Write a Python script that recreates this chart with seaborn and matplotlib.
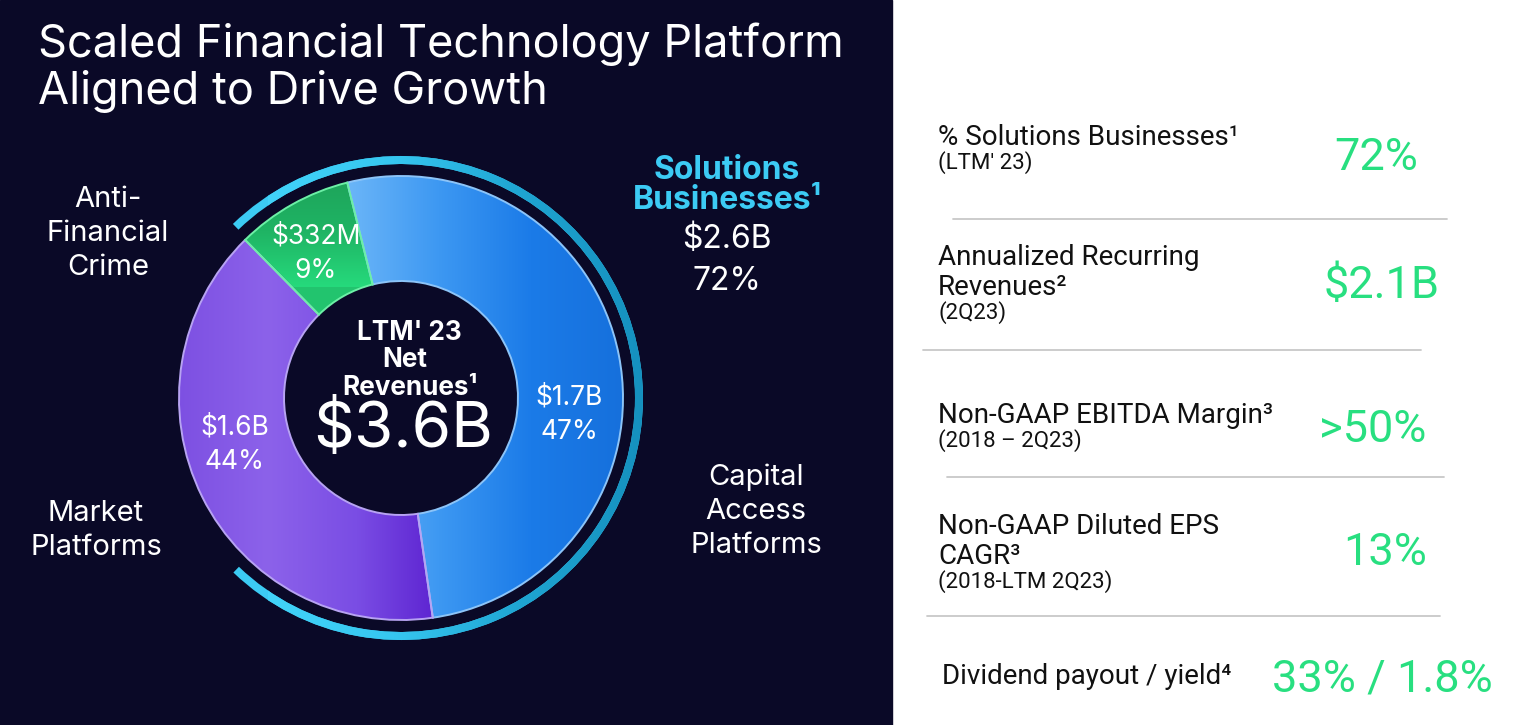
import numpy as np
import matplotlib
matplotlib.use("Agg")
import matplotlib.pyplot as plt
import seaborn as sns
from matplotlib.colors import LinearSegmentedColormap
from matplotlib.patches import Rectangle

# ---------------- data ----------------
segments = ["Capital Access Platforms", "Market Platforms", "Anti-Financial Crime"]
seg_revenue = ["$1.7B", "$1.6B", "$332M"]
seg_pct = ["47%", "44%", "9%"]
seg_drawn_share = [51.6, 39.9, 8.5]          # slice sizes as drawn in the reference
solutions_arc_share = [74.4, 25.6]           # outer "Solutions" arc as drawn
total_label = "$3.6B"
solutions_value = "$2.6B"
solutions_pct = "72%"

kpi_titles = [["% Solutions Businesses¹"],
              ["Annualized Recurring", "Revenues²"],
              ["Non-GAAP EBITDA Margin³"],
              ["Non-GAAP Diluted EPS", "CAGR³"],
              ["Dividend payout / yield⁴"]]
kpi_periods = ["(LTM' 23)", "(2Q23)", "(2018 – 2Q23)", "(2018-LTM 2Q23)", None]
kpi_values = ["72%", "$2.1B", ">50%", "13%", "33% / 1.8%"]

# ---------------- style ----------------
NAVY = "#0a0927"
CYAN = "#3ccbf4"
GREEN = "#28df80"
sns.set_theme(style="white")
plt.rcParams['font.family'] = ['Inter', 'DejaVu Sans']
LEFT_FONT = ['Inter', 'DejaVu Sans']
RIGHT_FONT = ['Roboto', 'DejaVu Sans']

W, H = 1514, 725
fig = plt.figure(figsize=(W / 100, H / 100), dpi=100)
fig.patch.set_facecolor("white")

bg = fig.add_axes([0, 0, 1, 1])
bg.set_xlim(0, W)
bg.set_ylim(H, 0)
bg.axis("off")
bg.add_patch(Rectangle((0, 0), 892, H, color=NAVY, zorder=0))

# ---------------- donut ----------------
cx, cy, R = 401, 398, 222
S = 1.2 * R
ax = fig.add_axes([(cx - S) / W, (H - cy - S) / H, 2 * S / W, 2 * S / H])
ax.patch.set_alpha(0)

base_colors = ["#1f80ea", "#7f52e3", "#22c46e"]
wedges, _ = ax.pie(seg_drawn_share, colors=base_colors, startangle=104, counterclock=False,
                   radius=1.0, wedgeprops=dict(width=0.473, linewidth=0))

grads = [
    ("h", ["#6cb6f8", "#3d98f2", "#1b7be8", "#1670dc"], (-0.25, 1.0, -1, 1)),
    ("h", ["#7d50e2", "#8c62ea", "#7a4de4", "#5a1fcf"], (-1.0, 0.2, -1, 1)),
    ("v", ["#26da7c", "#1fb464", "#1ea35a"], (-1, 1, 0.5, 1.0)),
]
for w, (d, cols, ext) in zip(wedges, grads):
    cmap = LinearSegmentedColormap.from_list("g", cols)
    g = np.linspace(0, 1, 256)
    arr = g[None, :] if d == "h" else g[:, None]
    im = ax.imshow(arr, cmap=cmap, extent=ext, origin="lower", aspect="auto",
                   zorder=2, interpolation="bilinear")
    im.set_clip_path(w)

edge_w, _ = ax.pie(seg_drawn_share, colors=["none"] * 3, startangle=104, counterclock=False,
                   radius=1.0, wedgeprops=dict(width=0.473, linewidth=1.4))
for w, ec in zip(edge_w, ["#8cc4f8", "#b7a3f2", "#6cf0a6"]):
    w.set_edgecolor(ec)
    w.set_facecolor("none")
    w.set_zorder(3)

arc_w, _ = ax.pie(solutions_arc_share, colors=[CYAN, "none"], startangle=134, counterclock=False,
                  radius=1.09, wedgeprops=dict(width=0.036, linewidth=0))
arc_w[1].set_visible(False)
cmap = LinearSegmentedColormap.from_list("arc", ["#42d3f9", "#36c6f0", "#1fa5d2", "#1590be"])
im = ax.imshow(np.linspace(0, 1, 256)[None, :], cmap=cmap, extent=(-0.6, 1.1, -1.2, 1.2),
               origin="lower", aspect="auto", zorder=2, interpolation="bilinear")
im.set_clip_path(arc_w[0])

ax.set_xlim(-1.2, 1.2)
ax.set_ylim(-1.2, 1.2)
ax.set_aspect("equal")
ax.axis("off")

# ---------------- text overlay ----------------
top = fig.add_axes([0, 0, 1, 1])
top.set_xlim(0, W)
top.set_ylim(H, 0)
top.axis("off")
top.patch.set_alpha(0)


def T(x, y, s, size, color="white", ha="left", weight="normal", family=LEFT_FONT):
    top.text(x, y, s, fontsize=size, color=color, ha=ha, va="baseline",
             fontweight=weight, family=family, zorder=5)


T(38, 57, "Scaled Financial Technology Platform", 32.5)
T(38, 104, "Aligned to Drive Growth", 32.5)

T(727, 179, "Solutions", 23, color=CYAN, ha="center", weight="bold")
T(727, 209, "Businesses¹", 23, color=CYAN, ha="center", weight="bold")
T(727, 248, solutions_value, 23, ha="center")
T(727, 290, solutions_pct, 23, ha="center")

for i, s in enumerate(["Anti-", "Financial", "Crime"]):
    T(108, 207 + 34 * i, s, 21, ha="center")
for i, s in enumerate(["Market", "Platforms"]):
    T(96, 521 + 34 * i, s, 21, ha="center")
for i, s in enumerate(["Capital", "Access", "Platforms"]):
    T(756, 485 + 34 * i, s, 21, ha="center")

label_pos = [(569, 404), (235, 434), (316, 243)]
for (x, y), r, p in zip(label_pos, seg_revenue, seg_pct):
    T(x, y, r, 19, ha="center")
    T(x, y + 35, p, 19, ha="center")

T(409, 340, "LTM' 23", 18.8, ha="center", weight="bold")
T(405, 367, "Net", 18.8, ha="center", weight="bold")
T(410, 395, "Revenues¹", 18.8, ha="center", weight="bold")
T(403, 447, total_label, 46, ha="center")

# ---------------- right panel ----------------
title_base = [145, 265, 423, 534, 684]
value_base = [170, 298, 442, 565, 692]
value_x = [1376, 1382, 1373, 1385, 1382]
title_x = [938, 938, 938, 938, 942]
for i in range(5):
    y = title_base[i]
    for line in kpi_titles[i]:
        T(title_x[i], y, line, 20, color="#111111", family=RIGHT_FONT)
        y += 30
    if kpi_periods[i]:
        T(title_x[i], y - 30 + 24, kpi_periods[i], 16, color="#111111", family=RIGHT_FONT)
    T(value_x[i], value_base[i], kpi_values[i], 32.5, color=GREEN, ha="center", family=RIGHT_FONT)

dividers = [(219, 953, 1447), (350, 923, 1421), (477, 947, 1444), (616, 927, 1440)]
for y, x0, x1 in dividers:
    bg.plot([x0, x1], [y, y], color="#c8c8c8", lw=1.3, zorder=4)

fig.savefig("out.png", dpi=100, facecolor=fig.get_facecolor())
